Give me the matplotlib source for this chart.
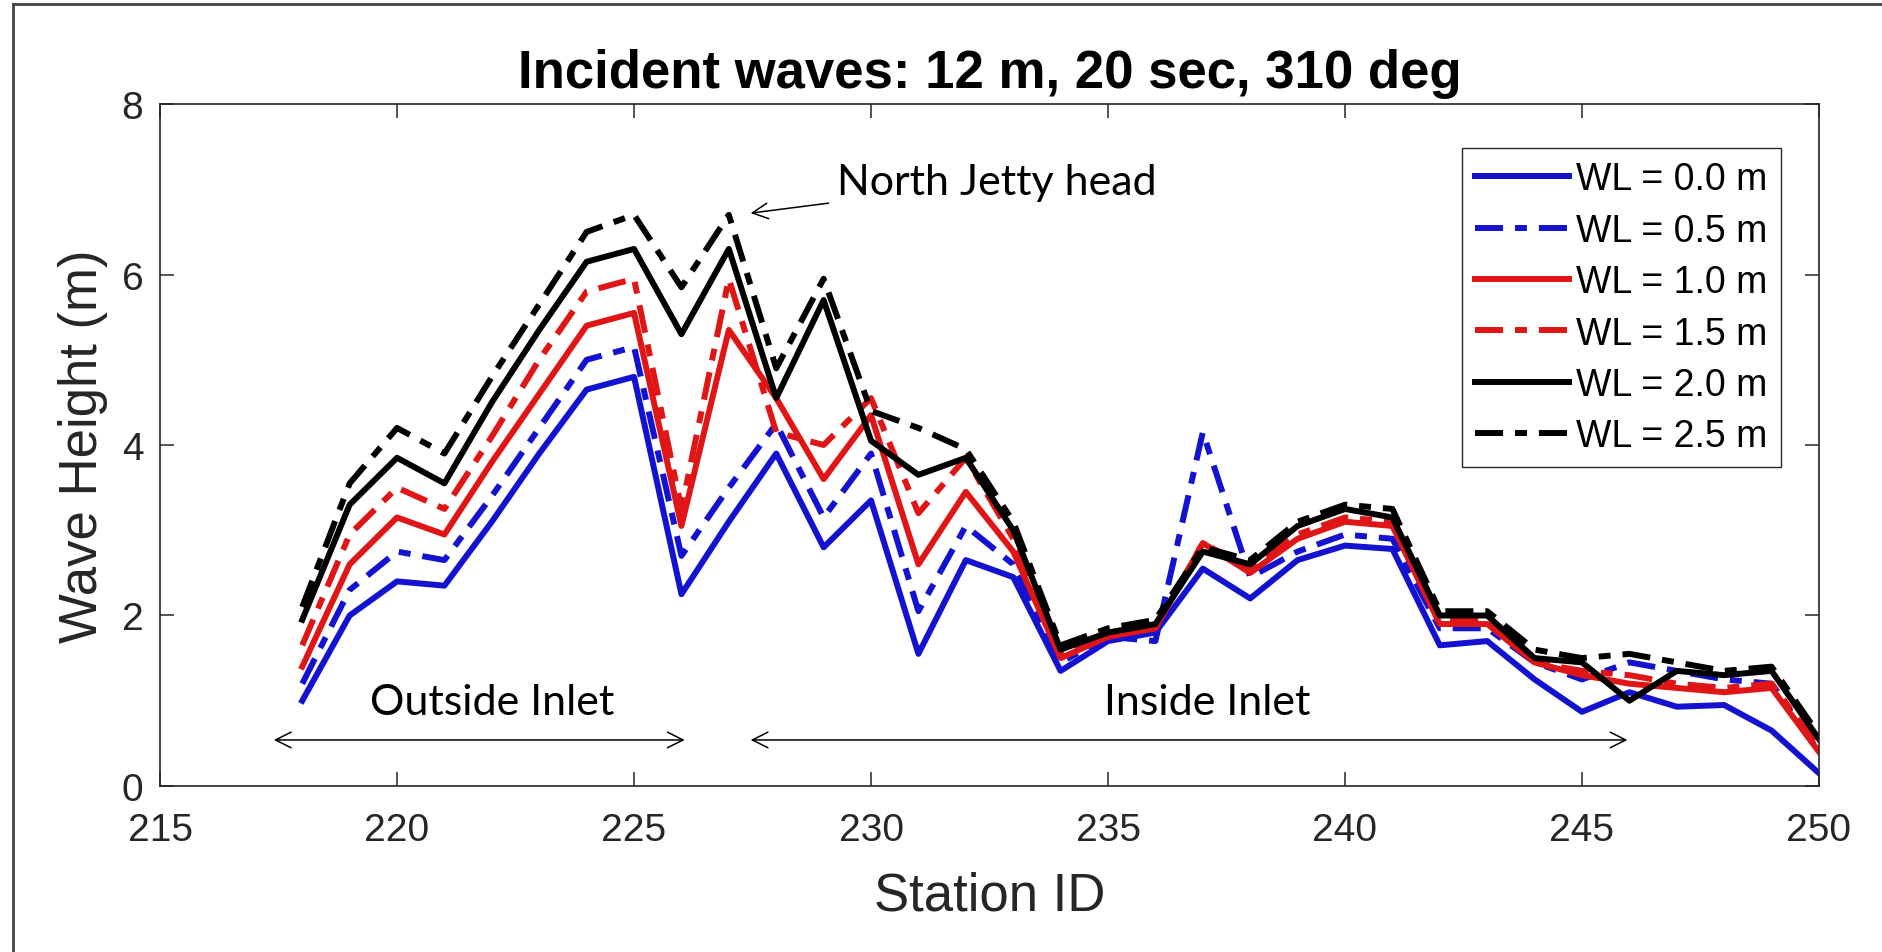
import numpy as np
import matplotlib
matplotlib.use('Agg')
import matplotlib.pyplot as plt
from matplotlib.lines import Line2D

plt.rcParams['font.family'] = ['Liberation Sans', 'DejaVu Sans']

stations = list(range(218, 251))

wl_00 = [1.0, 2.0, 2.4, 2.35, 3.1, 3.9, 4.65, 4.8, 2.25, 3.1, 3.9, 2.8, 3.35, 1.55, 2.65, 2.45, 1.35,
         1.7, 1.8, 2.55, 2.2, 2.65, 2.82, 2.78, 1.65, 1.7, 1.25, 0.87, 1.1, 0.93, 0.95, 0.65, 0.15]
wl_05 = [1.2, 2.3, 2.75, 2.65, 3.4, 4.2, 5.0, 5.15, 2.7, 3.5, 4.25, 3.15, 3.9, 2.05, 3.05, 2.6, 1.45,
         1.75, 1.7, 4.15, 2.45, 2.75, 2.95, 2.9, 1.85, 1.85, 1.45, 1.25, 1.45, 1.35, 1.25, 1.2, 0.4]
wl_10 = [1.4, 2.6, 3.15, 2.95, 3.8, 4.6, 5.4, 5.55, 3.05, 5.35, 4.55, 3.6, 4.35, 2.6, 3.45, 2.75, 1.5,
         1.75, 1.85, 2.85, 2.5, 2.9, 3.1, 3.05, 1.9, 1.9, 1.45, 1.3, 1.2, 1.15, 1.1, 1.15, 0.4]
wl_15 = [1.65, 2.95, 3.5, 3.25, 4.1, 5.0, 5.8, 5.95, 3.25, 5.95, 4.15, 4.0, 4.55, 3.2, 3.85, 2.9, 1.55,
         1.8, 1.85, 2.85, 2.55, 2.95, 3.15, 3.1, 1.95, 1.95, 1.45, 1.35, 1.3, 1.2, 1.15, 1.2, 0.45]
wl_20 = [1.95, 3.3, 3.85, 3.55, 4.5, 5.35, 6.15, 6.3, 5.3, 6.3, 4.55, 5.7, 4.05, 3.65, 3.85, 3.0, 1.6,
         1.8, 1.9, 2.75, 2.6, 3.05, 3.25, 3.15, 2.0, 2.0, 1.5, 1.45, 1.0, 1.35, 1.3, 1.35, 0.55]
wl_25 = [2.1, 3.55, 4.2, 3.9, 4.8, 5.65, 6.5, 6.7, 5.85, 6.7, 4.9, 5.95, 4.4, 4.2, 3.95, 3.1, 1.65,
         1.85, 1.95, 2.8, 2.65, 3.1, 3.3, 3.25, 2.05, 2.05, 1.6, 1.5, 1.55, 1.45, 1.35, 1.4, 0.6]

labels = ['WL = 0.0 m', 'WL = 0.5 m', 'WL = 1.0 m', 'WL = 1.5 m', 'WL = 2.0 m', 'WL = 2.5 m']

blue = '#1212d0'
red = '#e01515'
dashdot = (0, (4.7, 2, 2, 2))
axcol = '#262626'

fig = plt.figure(figsize=(18.83, 9.53), dpi=100)
ax = fig.add_axes([0.085, 0.1742, 0.881, 0.7156])

series = [(wl_00, blue, '-'), (wl_05, blue, dashdot), (wl_10, red, '-'),
          (wl_15, red, dashdot), (wl_20, 'k', '-'), (wl_25, 'k', dashdot)]
for (vals, c, ls), lab in zip(series, labels):
    ax.plot(stations, vals, color=c, linestyle=ls, linewidth=4.3, label=lab)

ax.set_xlim(215, 250)
ax.set_ylim(0, 8)
ax.set_xticks(range(215, 251, 5))
ax.set_yticks(range(0, 9, 2))
ax.tick_params(direction='in', length=10, width=1.1, top=True, right=True,
               labelsize=28, colors=axcol)
ax.tick_params(axis='x', pad=19)
ax.tick_params(axis='y', pad=12)
for sp in ax.spines.values():
    sp.set_color(axcol)
    sp.set_linewidth(1.2)

ax.set_xlabel('Station ID', fontsize=38, color=axcol, labelpad=16)
ax.set_ylabel('Wave Height (m)', fontsize=38, color=axcol, labelpad=10)
ax.set_title('Incident waves: 12 m, 20 sec, 310 deg', fontsize=38, fontweight='bold', pad=12)

ax.legend(loc='upper right', bbox_to_anchor=(0.977, 0.935), borderaxespad=0, fontsize=27,
          handlelength=2.5, handletextpad=0.2, labelspacing=0.41, borderpad=0.35,
          frameon=True, fancybox=False, edgecolor=axcol, framealpha=1)

note_font = ['Lato', 'DejaVu Sans']
ax.annotate('North Jetty head', xy=(227.46, 6.72), xytext=(229.28, 7.09), fontsize=31,
            family=note_font, va='center', ha='left',
            arrowprops=dict(arrowstyle='->', color='k', lw=1.1, shrinkA=4, shrinkB=0,
                            mutation_scale=28))
ax.annotate('', xy=(217.4, 0.54), xytext=(226.07, 0.54),
            arrowprops=dict(arrowstyle='<->', color='k', lw=1.1, shrinkA=0, shrinkB=0,
                            mutation_scale=28))
ax.annotate('', xy=(227.46, 0.54), xytext=(245.96, 0.54),
            arrowprops=dict(arrowstyle='<->', color='k', lw=1.1, shrinkA=0, shrinkB=0,
                            mutation_scale=28))
ax.text(222.0, 0.99, 'Outside Inlet', fontsize=31, family=note_font, ha='center', va='center')
ax.text(237.09, 0.99, 'Inside Inlet', fontsize=31, family=note_font, ha='center', va='center')

# outer frame (only left and top edges visible in the original)
fig.lines.append(Line2D([13 / 1883, 13 / 1883], [0, 1 - 5 / 953], transform=fig.transFigure,
                        color='#444444', linewidth=2))
fig.lines.append(Line2D([13 / 1883, 1], [1 - 5 / 953, 1 - 5 / 953], transform=fig.transFigure,
                        color='#444444', linewidth=2))

plt.savefig('out.png', dpi=100)
